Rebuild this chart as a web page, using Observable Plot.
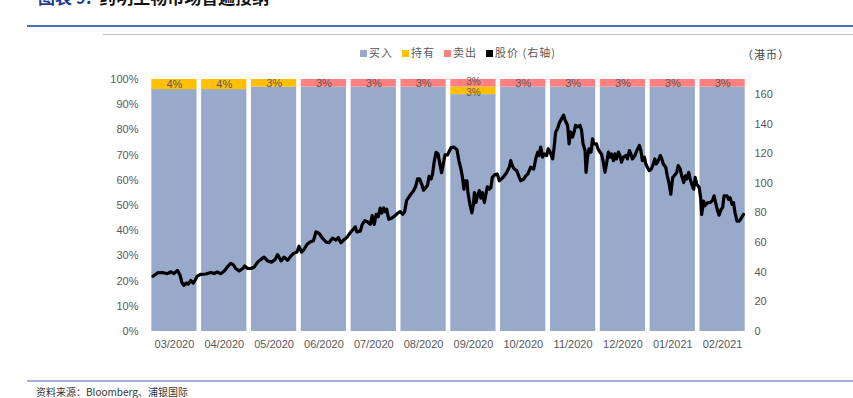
<!DOCTYPE html>
<html><head><meta charset="utf-8">
<script src="https://cdn.jsdelivr.net/npm/d3@7"></script>
<script src="https://cdn.jsdelivr.net/npm/@observablehq/plot@0.6"></script>
<style>
html,body{margin:0;padding:0;background:#fff;}
#page{position:relative;width:853px;height:398px;overflow:hidden;font-family:"Noto Sans CJK SC","Noto Sans",sans-serif;}
.abs{position:absolute;}
#title{left:38px;top:-16px;font-size:17px;font-weight:bold;white-space:nowrap;color:#111;}
#title .lab{color:#1f3a93;}
#legend{left:360px;top:44px;font-size:11px;color:#595959;white-space:nowrap;letter-spacing:1px;}
#legend span.item{margin-right:9px;}
#legend i{display:inline-block;width:7px;height:7px;margin-right:2px;vertical-align:0px;}
#unit{left:742px;top:46px;font-size:11px;color:#404040;letter-spacing:1px;}
#chart{left:0;top:60px;}
#source{left:36px;top:384px;font-size:10px;color:#333;white-space:nowrap;}
</style></head>
<body><div id="page">
<div id="title" class="abs"><span class="lab">图表 9:</span>&nbsp; 药明生物市场普遍接纳</div>
<div class="abs" style="left:27px;top:25px;width:826px;height:2px;background:#4a6fb5"></div>
<div class="abs" style="left:103px;top:34px;width:750px;height:1px;background:#c0c0c0"></div>
<div id="legend" class="abs"></div>
<div id="unit" class="abs">（港币）</div>
<div id="chart" class="abs"></div>
<div class="abs" style="left:27px;top:380px;width:826px;height:2px;background:#a8acd6"></div>
<div id="source" class="abs">资料来源：Bloomberg、浦银国际</div>
</div>
<script>
const months = ["03/2020","04/2020","05/2020","06/2020","07/2020","08/2020","09/2020","10/2020","11/2020","12/2020","01/2021","02/2021"];
const buy  = [96,96,97,97,97,97,94,97,97,97,97,97];
const hold = [4,4,3,0,0,0,3,0,0,0,0,0];
const sell = [0,0,0,3,3,3,3,3,3,3,3,3];
const seriesNames = ["买入","持有","卖出","股价 (右轴)"];
const seriesColors = ["#98a9ca","#ffc000","#ff8080","#000000"];
const rightMax = 170;
const rightTicks = [0,20,40,60,80,100,120,140,160];

// stock price: position in months since start (0 = start of 03/2020) and HKD price
const priceT = [0.07,0.16,0.26,0.36,0.43,0.49,0.56,0.61,0.65,0.69,0.74,0.78,0.83,0.88,0.92,0.96,1.03,
1.13,1.23,1.30,1.36,1.43,1.50,1.56,1.63,1.68,1.73,1.80,1.87,1.91,1.97,
2.03,2.10,2.17,2.23,2.30,2.37,2.45,2.52,2.57,2.64,2.70,2.77,2.84,2.89,2.96,
3.00,3.05,3.10,3.16,3.22,3.29,3.34,3.40,3.47,3.54,3.60,3.67,3.74,3.79,3.84,3.91,3.97,
4.04,4.09,4.13,4.16,4.23,4.27,4.32,4.37,4.43,4.47,4.51,4.55,4.59,4.63,4.66,4.70,4.73,4.76,4.80,4.86,4.92,4.98,
5.03,5.08,5.12,5.16,5.23,5.29,5.34,5.38,5.42,5.47,5.50,5.54,5.58,5.61,5.65,5.68,5.71,5.75,5.79,5.83,5.86,5.90,5.93,5.98,
6.05,6.11,6.17,6.21,6.25,6.28,6.31,6.33,6.37,6.39,6.43,6.47,6.50,6.52,6.55,6.58,6.62,6.65,6.68,6.72,6.75,6.78,6.82,6.85,6.88,6.93,6.98,
7.02,7.06,7.12,7.17,7.22,7.25,7.28,7.32,7.37,7.42,7.45,7.51,7.55,7.59,7.62,7.65,7.71,7.75,7.79,7.82,7.85,7.89,7.92,7.97,
8.00,8.04,8.09,8.12,8.15,8.19,8.22,8.27,8.31,8.34,8.39,8.42,8.45,8.49,8.52,8.55,8.59,8.64,8.67,8.70,8.74,8.76,8.79,8.82,8.86,8.89,8.92,8.97,
9.00,9.04,9.07,9.10,9.14,9.17,9.21,9.24,9.27,9.31,9.34,9.37,9.41,9.44,9.47,9.51,9.56,9.59,9.63,9.66,9.69,9.74,9.78,9.83,9.86,9.89,9.93,9.96,9.99,
10.03,10.07,10.11,10.14,10.17,10.21,10.25,10.28,10.31,10.36,10.39,10.43,10.46,10.50,10.53,10.58,10.61,10.65,10.68,10.72,10.75,10.78,10.82,10.85,10.88,10.92,10.95,10.98,
11.03,11.06,11.08,11.12,11.14,11.20,11.25,11.30,11.33,11.36,11.40,11.43,11.47,11.50,11.53,11.59,11.62,11.65,11.69,11.72,11.75,11.79,11.83,11.88,11.92];
const price = [37.3,39.5,39.8,39.0,40.3,39.0,41.2,38.3,33.2,31.1,32.7,32.0,34.4,32.7,34.9,37.4,38.6,
38.8,39.8,39.1,40.1,39.0,40.8,43.4,45.9,45.1,42.5,40.8,42.5,44.2,42.5,
42.5,43.4,46.8,48.5,50.2,47.6,46.8,48.5,51.9,47.6,50.2,48.1,51.0,52.7,53.6,
57.5,53.6,55.3,58.7,60.4,61.2,67.2,66.3,62.9,60.4,59.9,62.9,61.7,63.4,59.9,62.1,63.8,
67.2,68.9,70.6,67.2,67.7,72.3,74.8,74.0,72.3,78.2,72.3,79.1,77.4,83.3,79.9,83.3,80.8,82.5,75.7,76.5,77.9,79.9,
80.8,79.1,80.8,88.5,91.9,94.4,97.8,102.9,102.9,98.7,95.3,97.0,98.7,104.6,102.9,106.3,114.0,120.8,119.9,112.3,107.2,114.0,119.1,119.1,
124.0,124.4,122.6,115.0,109.6,104.0,96.0,101.7,101.7,93.7,85.8,80.0,85.8,93.7,87.0,91.5,95.0,90.0,93.7,87.0,92.6,97.6,96.0,97.0,104.0,105.8,106.2,
101.7,102.8,105.0,107.4,110.8,115.3,111.9,109.6,108.5,104.0,101.7,102.8,105.0,106.2,108.5,110.8,109.6,116.4,121.0,118.7,124.4,117.6,119.8,118.7,
123.2,121.0,116.4,124.4,134.6,136.9,140.3,143.7,146.0,142.5,139.1,126.6,134.6,131.2,134.6,139.1,138.0,139.1,135.7,126.6,122.1,107.4,117.6,123.2,121.0,130.0,126.6,126.6,
123.2,121.0,119.8,115.3,107.4,113.0,121.0,117.6,119.8,115.3,119.8,116.4,121.0,118.7,114.2,117.6,118.7,116.4,122.1,119.8,116.4,118.7,122.1,125.5,122.1,115.3,117.6,113.0,110.8,
108.5,109.6,113.0,116.4,113.0,115.3,118.7,116.4,113.0,110.8,105.0,99.4,92.6,104.0,105.0,107.4,111.9,109.6,105.0,100.5,105.0,102.8,107.4,102.8,99.4,96.0,104.0,99.4,
97.1,90.3,79.0,88.0,84.7,86.9,86.9,88.5,91.5,86.9,81.3,78.5,82.4,83.5,91.5,91.5,89.2,90.3,85.8,86.9,80.1,74.4,74.4,76.7,79.0];

// legend
const leg = document.getElementById("legend");
seriesNames.forEach((n,k)=>{
  const s=document.createElement("span"); s.className="item";
  s.innerHTML=`<i style="background:${seriesColors[k]}"></i>${n}`;
  leg.appendChild(s);
});

// stacked table
const segs = [];
months.forEach((m,i)=>{
  let y0=0;
  [["买入",buy[i]],["持有",hold[i]],["卖出",sell[i]]].forEach(([type,v])=>{
    if(v>0) segs.push({i,m,type,v,y1:y0,y2:y0+v});
    y0+=v;
  });
});
const labelSegs = segs.filter(d=>d.type!=="买入");
const crowded = new Set(months.filter((m,i)=>hold[i]>0 && sell[i]>0));
const priceRows = priceT.map((t,k)=>({t,p:price[k]}));

const chart = Plot.plot({
  width:853, height:300,
  marginLeft:149, marginRight:106, marginTop:19, marginBottom:29,
  style:{fontSize:"11px", color:"#595959", fontFamily:"'Liberation Sans Narrow','Liberation Sans',sans-serif", background:"transparent"},
  x:{domain:[0,12], axis:null},
  y:{domain:[0,100], axis:null},
  color:{domain:seriesNames.slice(0,3), range:seriesColors.slice(0,3)},
  marks:[
    Plot.rect(segs,{x1:d=>d.i+0.046, x2:d=>d.i+0.954, y1:"y1", y2:"y2", fill:"type"}),
    Plot.text(labelSegs.filter(d=>!crowded.has(d.m)),{x:d=>d.i+0.5, y:d=>(d.y1+d.y2)/2, text:d=>d.v+"%", fill:"#595959", fontSize:11}),
    Plot.text(labelSegs.filter(d=>crowded.has(d.m) && d.type==="卖出"),{x:d=>d.i+0.5, y:d=>(d.y1+d.y2)/2, dy:-1, text:d=>d.v+"%", fill:"#595959", fontSize:10}),
    Plot.text(labelSegs.filter(d=>crowded.has(d.m) && d.type==="持有"),{x:d=>d.i+0.5, y:d=>(d.y1+d.y2)/2, dy:2, text:d=>d.v+"%", fill:"#595959", fontSize:10}),
    Plot.line(priceRows,{x:"t", y:d=>d.p/rightMax*100, stroke:"#000", strokeWidth:3.2, strokeLinejoin:"round"}),
    Plot.axisY({ticks:d3.range(0,101,10), tickFormat:d=>d+"%", tickSize:0, tickPadding:11, label:null, fill:"#595959"}),
    Plot.axisY({anchor:"right", ticks:rightTicks.map(v=>v/rightMax*100), tickFormat:d=>Math.round(d*rightMax/100), tickSize:0, tickPadding:7, label:null, fill:"#595959"}),
    Plot.axisX({ticks:months.map((m,i)=>i+0.5), tickFormat:d=>months[Math.floor(d)], tickSize:0, tickPadding:9, label:null, fill:"#595959"})
  ]
});
document.getElementById("chart").appendChild(chart);
</script>
</body></html>
